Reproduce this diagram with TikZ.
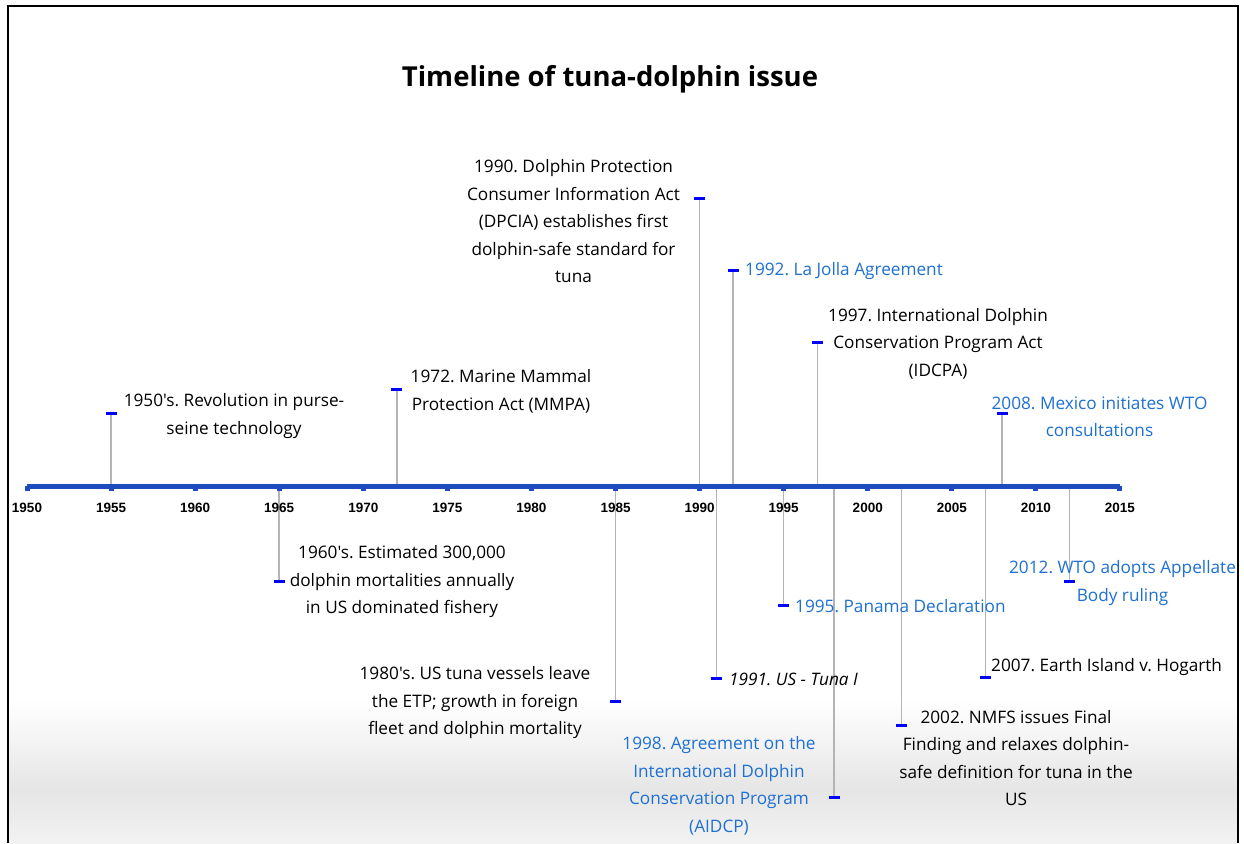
\documentclass[tikz,border=0pt]{standalone}
\usepackage{fontspec}
\setmainfont{Open Sans}[Ligatures=TeXOff]
\newfontfamily\yearfont{Liberation Sans}
\frenchspacing
\begin{document}
\begin{tikzpicture}[x=1pt,y=-1pt,
  evt/.style={font=\frenchspacing\fontsize{17.2}{27.5}\selectfont, align=center, inner sep=0pt, text=black},
  bluetxt/.style={evt, text=bluetext},
  yr/.style={font=\yearfont\bfseries\fontsize{13.5}{14}\selectfont, inner sep=0pt},
  stem/.style={draw=stemgray, line width=1.6pt},
  evmark/.style={draw=markblue, line width=3pt},
]
\definecolor{bluetext}{RGB}{30,112,210}
\definecolor{markblue}{RGB}{0,0,255}
\definecolor{axisblue}{RGB}{30,76,190}
\definecolor{stemgray}{RGB}{180,180,180}
\useasboundingbox (0,0) rectangle (1244,843);
\fill[white] (0,0) rectangle (1244,843);
% bottom gradient
\shade[top color=white, bottom color=black!10] (8,700) rectangle (1238,790);
\shade[top color=black!10, bottom color=black!5] (8,790) rectangle (1238,843);
% frame
\draw[line width=1.3pt] (8,843) -- (8,6) -- (1238,6) -- (1238,843);
% title
\node[font=\bfseries\fontsize{27.5}{32}\selectfont, inner sep=0pt] (title) at (610,79) {Timeline of tuna-dolphin issue};
% axis
\def\yx#1{27+(#1-1950)*16.815}
\coordinate (axL) at (27,486);
\coordinate (axR) at (1120,486);
% stems (drawn before axis)
\foreach \yrv/\my/\nm in {1955/413/a,1965/581/b,1972/389/c,1985/701/d,1990/198/e,1991/678/f,1992/270/g,1995/605/h,1997/342/i,1998/797/j,2002/725/k,2007/677/l,2008/413/m,2012/581/n}{
  \coordinate (s\nm) at ({\yx{\yrv}},486);
  \coordinate (m\nm) at ({\yx{\yrv}},\my);
  \draw[stem] (s\nm) -- (m\nm);
  \draw[evmark] ([xshift=-5.5pt]m\nm) -- ([xshift=5.5pt]m\nm);
}
\draw[axisblue, line width=5pt] (axL) -- (axR);
\foreach \y in {1950,1955,...,2015}{
  \fill[axisblue] ({\yx{\y}-2.5},486) rectangle ({\yx{\y}+2.5},490.5);
  \node[yr] (y\y) at ({\yx{\y}},507.5) {\y};
}
% event texts
\node[evt] (ta) at (234,416) {1950's. Revolution in purse-\\seine technology};
\node[evt] (tb) at (402,582) {1960's. Estimated 300,000\\dolphin mortalities annually\\in US dominated fishery};
\node[evt] (tc) at (501,391.5) {1972. Marine Mammal\\Protection Act (MMPA)};
\node[evt] (td) at (475,703) {1980's. US tuna vessels leave\\the ETP; growth in foreign\\fleet and dolphin mortality};
\node[evt] (te) at (573.5,221.5) {1990. Dolphin Protection\\Consumer Information Act\\(DPCIA) establishes first\\dolphin-safe standard for\\tuna};
\node[evt, anchor=west, font=\frenchspacing\itshape\fontsize{17.2}{27.5}\selectfont] (tf) at (729,679.5) {1991. US - Tuna I};
\node[bluetxt, anchor=west] (tg) at (745,271.5) {1992. La Jolla Agreement};
\node[bluetxt, anchor=west] (th) at (795,606.5) {1995. Panama Declaration};
\node[evt] (ti) at (938,343.5) {1997. International Dolphin\\Conservation Program Act\\(IDCPA)};
\node[bluetxt] (tj) at (719,786) {1998. Agreement on the\\International Dolphin\\Conservation Program\\(AIDCP)};
\node[evt] (tk) at (1016,758) {2002. NMFS issues Final\\Finding and relaxes dolphin-\\safe definition for tuna in the\\US};
\node[evt, anchor=west] (tl) at (991,667.5) {2007. Earth Island v. Hogarth};
\node[bluetxt] (tm) at (1099.5,417) {2008. Mexico initiates WTO\\consultations};
\node[bluetxt] (tn) at (1122.5,583) {2012. WTO adopts Appellate\\Body ruling};
\end{tikzpicture}
\end{document}
